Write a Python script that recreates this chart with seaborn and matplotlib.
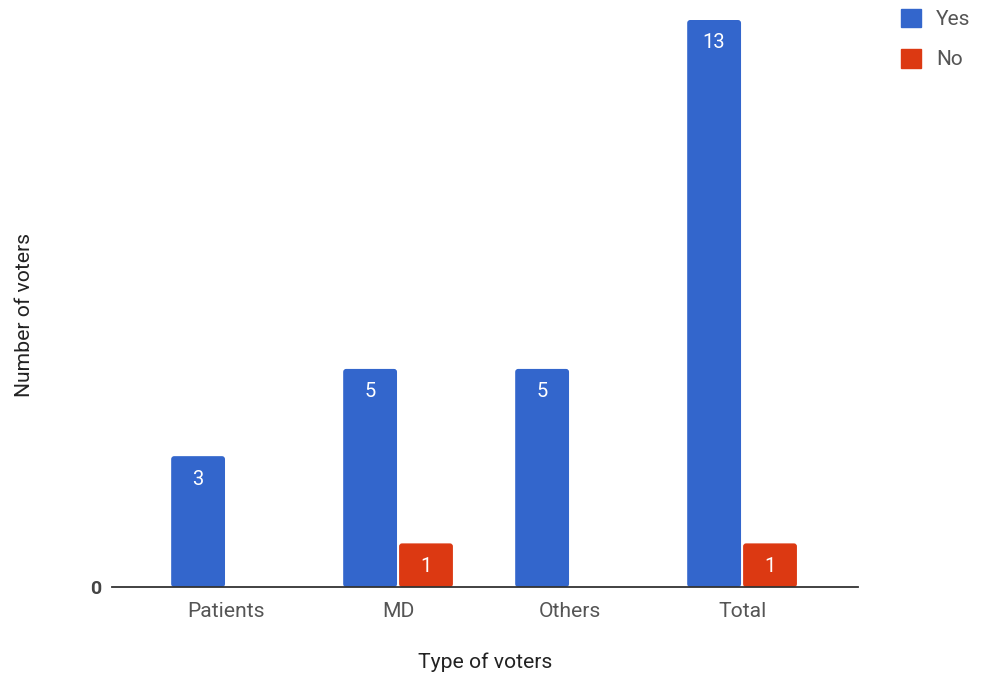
import matplotlib
matplotlib.use("Agg")
import matplotlib.pyplot as plt
import seaborn as sns
import pandas as pd
from matplotlib.patches import Patch, FancyBboxPatch

categories = ["Patients", "MD", "Others", "Total"]
yes_values = [3, 5, 5, 13]
no_values = [0, 1, 0, 1]
series_names = ["Yes", "No"]
colors = {"Yes": "#3366CC", "No": "#DC3912"}

df = pd.DataFrame({
    "Type of voters": categories * 2,
    "Number of voters": yes_values + no_values,
    "Answer": [series_names[0]] * len(categories) + [series_names[1]] * len(categories),
})

sns.set_theme(style="white")
plt.rcParams["font.family"] = ["Roboto", "DejaVu Sans"]

fig = plt.figure(figsize=(9.84, 6.8), dpi=100)
ax = fig.add_axes([112/984, 1-587/680, (858-112)/984, (587-20)/680])

sns.barplot(data=df, x="Type of voters", y="Number of voters", hue="Answer",
            palette=colors, width=0.65, ax=ax, legend=False, saturation=1,
            edgecolor="white", linewidth=1.2)

ax.set_xlim(-0.663, 3.674)
ax.set_ylim(0, 13)

# rounded corners: replace seaborn's rectangles by rounded boxes of same geometry
x_px = 746 / (3.674 + 0.663)
y_px = 567 / 13.0
r = 3.0 / x_px
aspect = x_px / y_px
for container in ax.containers:
    for bar in container:
        h = bar.get_height()
        bar.set_visible(False)
        if h > 0:
            fb = FancyBboxPatch((bar.get_x() + 0.006, 0), bar.get_width() - 0.012, h,
                                boxstyle=f"round,pad=0,rounding_size={r}",
                                mutation_aspect=aspect,
                                facecolor=bar.get_facecolor(), edgecolor="none", zorder=2)
            ax.add_patch(fb)
            ax.annotate(f"{int(h)}", (bar.get_x() + bar.get_width()/2, h),
                        xytext=(0, -16.5), textcoords="offset points",
                        ha="center", va="center", color="white", fontsize=14.5)

for s in ["top", "right", "left"]:
    ax.spines[s].set_visible(False)
ax.spines["bottom"].set_color("#333333")
ax.spines["bottom"].set_linewidth(1.3)
ax.spines["bottom"].set_zorder(5)

ax.set_yticks([0])
ax.set_yticklabels(["0"], fontsize=14, fontweight="bold", color="#444444")
ax.tick_params(axis="y", length=0, pad=8)
ax.tick_params(axis="x", length=0, pad=10.5, labelsize=15.2, labelcolor="#555555")
ax.grid(False)

ax.set_xlabel("Type of voters", fontsize=15.2, color="#222222")
ax.set_ylabel("Number of voters", fontsize=15.2, color="#222222")
ax.xaxis.set_label_coords(0.5, -0.116)
ax.yaxis.set_label_coords(-0.104, 0.48)

handles = [Patch(facecolor=colors[n], edgecolor=colors[n], label=n) for n in series_names]
fig.legend(handles=handles, loc="upper left", bbox_to_anchor=(901/984, 1-9/680),
           frameon=False, fontsize=15, handlelength=0.98, handleheight=0.98,
           labelspacing=0.95, handletextpad=0.7, labelcolor="#555555",
           borderpad=0, borderaxespad=0)

fig.savefig("out.png", dpi=100, facecolor="white")
